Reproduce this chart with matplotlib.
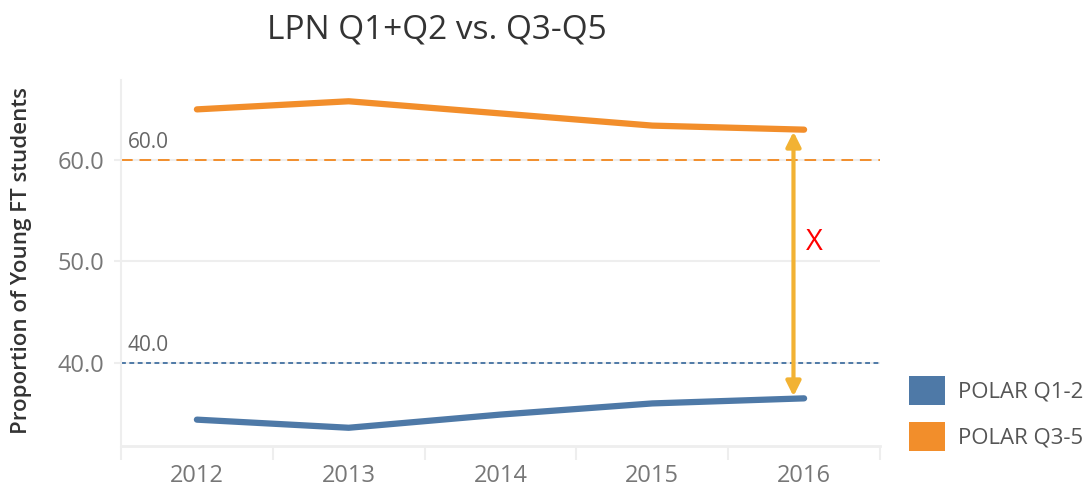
import matplotlib.pyplot as plt
from matplotlib.patches import Patch

YEARS = [2012, 2013, 2014, 2015, 2016]
POLAR_Q12 = [34.4, 33.6, 34.9, 36.0, 36.5]
POLAR_Q35 = [65.0, 65.8, 64.6, 63.4, 63.0]
REF_LINES = [60.0, 40.0]
Y_TICKS = [40, 50, 60]
SERIES_LABELS = ["POLAR Q1-2", "POLAR Q3-5"]

BLUE = "#4e79a7"
ORANGE = "#f28e2b"
GOLD = "#f2b233"
GRID = "#eeeeee"

plt.rcParams["font.family"] = ["Open Sans", "DejaVu Sans"]

fig = plt.figure(figsize=(10.91, 5.03), dpi=100)
ax = fig.add_axes([0.1109, 0.1133, 0.6957, 0.7277])

ax.plot(YEARS, POLAR_Q12, color=BLUE, lw=4.5, solid_capstyle="round", solid_joinstyle="round", zorder=3)
ax.plot(YEARS, POLAR_Q35, color=ORANGE, lw=4.5, solid_capstyle="round", solid_joinstyle="round", zorder=3)

# reference lines with labels
ax.axhline(REF_LINES[0], color=ORANGE, lw=1.4, ls=(0, (6, 3.5)), zorder=2)
ax.axhline(REF_LINES[1], color=BLUE, lw=1.4, ls=(0, (2.5, 1.8)), zorder=2)
for v in REF_LINES:
    ax.text(2011.545, v + 1.15, f"{v:.1f}", color="#666666", fontsize=15, ha="left", va="baseline")

# difference arrow
ax.annotate("", xy=(2015.93, POLAR_Q35[-1] - 0.2), xytext=(2015.93, POLAR_Q12[-1] + 0.2),
            arrowprops=dict(arrowstyle="<|-|>", color=GOLD, lw=3, mutation_scale=22,
                            shrinkA=0, shrinkB=0), zorder=4)
ax.text(2016.07, 51.9, "X", color="red", fontsize=21, ha="center", va="center")

ax.set_xlim(2011.5, 2016.5)
ax.set_ylim(31.8, 67.9)
ax.set_yticks(Y_TICKS)
ax.set_yticklabels([f"{t:.1f}" for t in Y_TICKS])
ax.set_xticks(YEARS)
ax.set_xticklabels([str(y) for y in YEARS])
ax.set_xticks([y - 0.5 for y in YEARS] + [2016.5], minor=True)

ax.tick_params(axis="x", which="major", length=0, pad=13, labelsize=17, labelcolor="#777777")
ax.tick_params(axis="x", which="minor", length=10, width=1.5, color=GRID)
ax.tick_params(axis="y", length=5, width=1.5, color=GRID, pad=7, labelsize=17, labelcolor="#777777")

ax.grid(axis="y", color=GRID, lw=1.5, zorder=0)
for side in ["top", "right"]:
    ax.spines[side].set_visible(False)
ax.spines["left"].set_color(GRID)
ax.spines["left"].set_linewidth(1.5)
ax.spines["bottom"].set_color(GRID)
ax.spines["bottom"].set_linewidth(2)

fig.text(0.02, 0.481, "Proportion of Young FT students", rotation=90, ha="center", va="center",
         fontsize=16, color="#333333", fontweight="semibold")
fig.text(0.40, 0.94, "LPN Q1+Q2 vs. Q3-Q5", ha="center", va="center", fontsize=24, color="#333333")

handles = [Patch(facecolor=BLUE, edgecolor="none"), Patch(facecolor=ORANGE, edgecolor="none")]
fig.legend(handles, SERIES_LABELS, loc="upper left", bbox_to_anchor=(0.833, 0.252),
           frameon=False, fontsize=16, handlelength=1.62, handleheight=1.62,
           handletextpad=0.59, labelspacing=0.77, borderpad=0, borderaxespad=0,
           labelcolor="#555555")

fig.savefig("out.png", dpi=100)
